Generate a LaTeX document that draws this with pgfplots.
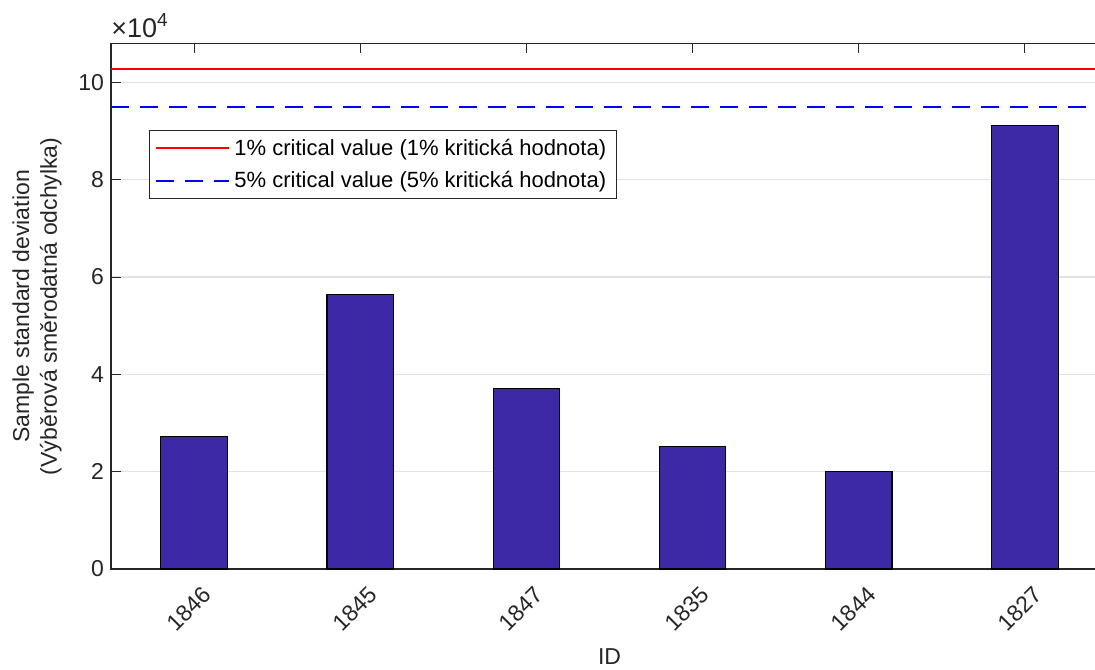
\documentclass[border=0pt]{standalone}
\usepackage{pgfplots}
\pgfplotsset{compat=1.18}
\usepackage{fontspec}
\setmainfont{Liberation Sans}
\definecolor{barblue}{RGB}{61,41,166}
\definecolor{axgray}{RGB}{38,38,38}
\definecolor{gridgray}{RGB}{226,226,226}
\begin{document}
\begin{tikzpicture}
% page = visible part of the figure (right edge of the axis is cut off)
\useasboundingbox (-55.5pt,-50pt) rectangle (492pt,284.5pt);
\begin{axis}[
    scale only axis,
    width=498.5pt, height=262.75pt,
    xmin=0.5, xmax=6.5, ymin=0, ymax=108000,
    xtick={1,2,3,4,5,6},
    xticklabels={1846,1845,1847,1835,1844,1827},
    ytick={0,20000,40000,60000,80000,100000},
    scaled y ticks=base 10:-4,
    ytick scale label code/.code={×10\textsuperscript{#1}},
    every y tick scale label/.style={at={(rel axis cs:0,1)},anchor=south west,inner sep=0pt,yshift=2.75pt,
        font=\fontsize{13.5}{16}\selectfont,text=axgray},
    /pgf/number format/assume math mode=true,
    tick align=inside, major tick length=5pt,
    xtick pos=both, ytick pos=left,
    tick style={axgray,line width=0.5pt},
    axis line style={axgray,line width=0.7pt},
    ymajorgrids, grid style={gridgray,line width=0.6pt},
    font=\fontsize{11.5}{13.8}\selectfont,
    ticklabel style={text=axgray},
    xticklabel style={xshift=3.5pt,yshift=-7pt,rotate=45,anchor=north east,inner sep=0.5pt},
    xlabel={ID},
    ylabel={Sample standard deviation\\(Výběrová směrodatná odchylka)},
    label style={font=\fontsize{12.3}{14.8}\selectfont},
    every axis x label/.style={at={(rel axis cs:0.5,-0.151)},anchor=north,inner sep=0pt,text=axgray},
    every axis y label/.style={at={(rel axis cs:-0.0425,0.5)},rotate=90,anchor=south,align=center,text=axgray},
    legend style={at={(0.038,0.835)},anchor=north west,draw=axgray,line width=0.6pt,
        font=\fontsize{11}{13.2}\selectfont,inner xsep=3pt,inner ysep=2pt,row sep=2.5pt,
        cells={anchor=west}},
    legend image code/.code={\draw[#1,line width=1pt] (0pt,0pt) -- (36.5pt,0pt);},
]
\addplot[ybar, bar width=0.4, fill=barblue, draw=black, line width=0.6pt, forget plot]
    coordinates {(1,27200) (2,56400) (3,37100) (4,25100) (5,20100) (6,91200)};
\addplot[red, line width=1pt] coordinates {(0.5,102800) (6.5,102800)};
\addplot[blue, line width=1pt, dash pattern=on 9pt off 5.5pt] coordinates {(0.5,95000) (6.5,95000)};
\legend{1\% critical value (1\% kritická hodnota),5\% critical value (5\% kritická hodnota)}
\end{axis}
\end{tikzpicture}
\end{document}
